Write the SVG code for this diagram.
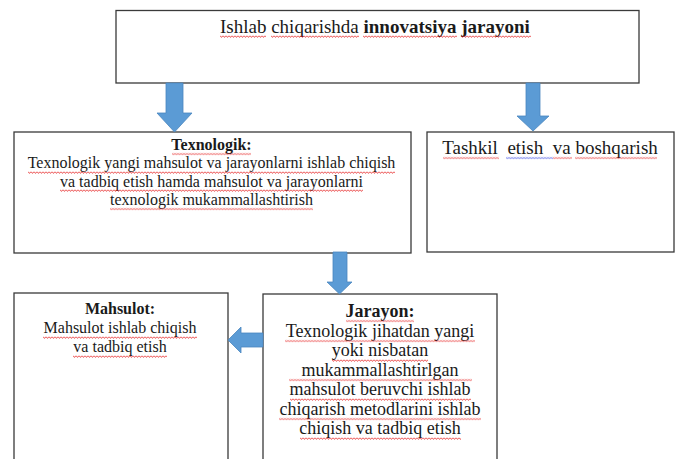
<svg xmlns="http://www.w3.org/2000/svg" width="679" height="459" viewBox="0 0 679 459">
<style>
.box{fill:#fff;stroke:#3a3a3a;stroke-width:1.3}
.arr{fill:#5b9bd5;stroke:#4a86bf;stroke-width:0.8}
.txt{font-family:"Liberation Serif","Times New Roman",serif;fill:#1a1a1a}
.c{text-anchor:middle}
.b{font-weight:bold}
.t16{font-size:16px}
.t18{font-size:18px}
.t19{font-size:19px}
.sq{fill:url(#wr)}
.sqb{fill:url(#wb)}
</style>
<defs>
<pattern id="wr" width="3" height="3" patternUnits="userSpaceOnUse"><path d="M0,0.6 L1.5,2.4 L3,0.6" fill="none" stroke="#e42020" stroke-width="0.8"/></pattern>
<pattern id="wb" width="3" height="3" patternUnits="userSpaceOnUse"><path d="M0,0.6 L1.5,2.4 L3,0.6" fill="none" stroke="#2a3ce0" stroke-width="0.8"/></pattern>
</defs>
<rect width="679" height="459" fill="#fff"/>
<g class="txt">
<g id="top">
<rect class="box" x="116" y="10.5" width="523" height="72.5"/>
<text class="t19" x="220" y="32.5"><tspan>Ishlab</tspan> <tspan>chiqarishda</tspan> <tspan class="b">innovatsiya</tspan><tspan class="b"> </tspan><tspan class="b">jarayoni</tspan></text>
<svg x="220" y="35" width="46" height="3"><rect class="sq" width="100%" height="3"/></svg>
<svg x="271" y="35" width="88" height="3"><rect class="sq" width="100%" height="3"/></svg>
<svg x="363" y="35" width="94" height="3"><rect class="sq" width="100%" height="3"/></svg>
<svg x="461" y="35" width="70" height="3"><rect class="sq" width="100%" height="3"/></svg>
</g>
<g id="texnologik">
<rect class="box" x="14" y="132" width="397" height="121"/>
<text class="t16 c" x="211.5" y="150"><tspan class="b">Texnologik:</tspan></text>
<text class="t16 c" x="211.5" y="168.3"><tspan>Texnologik</tspan> <tspan>yangi</tspan> <tspan>mahsulot</tspan> <tspan>va</tspan> <tspan>jarayonlarni</tspan> <tspan>ishlab</tspan> <tspan>chiqish</tspan></text>
<text class="t16 c" x="211.5" y="186.6"><tspan>va</tspan> <tspan>tadbiq</tspan> <tspan>etish</tspan> <tspan>hamda</tspan> <tspan>mahsulot</tspan> <tspan>va</tspan> <tspan>jarayonlarni</tspan></text>
<text class="t16 c" x="211.5" y="205"><tspan>texnologik</tspan> <tspan>mukammallashtirish</tspan></text>
<svg x="172" y="152.5" width="79" height="3"><rect class="sq" width="100%" height="3"/></svg>
<svg x="28" y="171" width="367" height="3"><rect class="sq" width="100%" height="3"/></svg>
<svg x="60" y="189" width="303" height="3"><rect class="sq" width="100%" height="3"/></svg>
<svg x="110" y="207.5" width="203" height="3"><rect class="sq" width="100%" height="3"/></svg>
</g>
<g id="tashkil">
<rect class="box" x="427" y="132" width="247" height="120"/>
<text class="t19 c" x="550" y="154" xml:space="preserve"><tspan>Tashkil</tspan>  <tspan>etish</tspan>  <tspan>va</tspan> <tspan>boshqarish</tspan></text>
<svg x="443" y="156.5" width="56" height="3"><rect class="sq" width="100%" height="3"/></svg>
<svg x="506" y="156.5" width="47" height="3"><rect class="sqb" width="100%" height="3"/></svg>
<svg x="553" y="156.5" width="19" height="3"><rect class="sq" width="100%" height="3"/></svg>
<svg x="575" y="156.5" width="82" height="3"><rect class="sq" width="100%" height="3"/></svg>
</g>
<g id="mahsulot">
<rect class="box" x="14" y="293" width="214" height="180"/>
<text class="t16 c" x="120" y="314.3"><tspan class="b">Mahsulot:</tspan></text>
<text class="t16 c" x="120" y="333.3"><tspan>Mahsulot</tspan> <tspan>ishlab</tspan> <tspan>chiqish</tspan></text>
<text class="t16 c" x="120" y="352.3"><tspan>va</tspan> <tspan>tadbiq</tspan> <tspan>etish</tspan></text>
<svg x="43" y="336" width="154" height="3"><rect class="sq" width="100%" height="3"/></svg>
<svg x="73" y="355" width="94" height="3"><rect class="sq" width="100%" height="3"/></svg>
</g>
<g id="jarayon">
<rect class="box" x="263" y="294" width="234" height="180"/>
<text class="t18 c" x="380" y="316.7"><tspan class="b">Jarayon:</tspan></text>
<text class="t18 c" x="380" y="336.5"><tspan>Texnologik</tspan> <tspan>jihatdan</tspan> <tspan>yangi</tspan></text>
<text class="t18 c" x="380" y="356"><tspan>yoki</tspan> <tspan>nisbatan</tspan></text>
<text class="t18 c" x="380" y="375.5"><tspan>mukammallashtirlgan</tspan></text>
<text class="t18 c" x="380" y="395"><tspan>mahsulot</tspan> <tspan>beruvchi</tspan> <tspan>ishlab</tspan></text>
<text class="t18 c" x="380" y="414.5"><tspan>chiqarish</tspan> <tspan>metodlarini</tspan> <tspan>ishlab</tspan></text>
<text class="t18 c" x="380" y="434"><tspan>chiqish</tspan> <tspan>va</tspan> <tspan>tadbiq</tspan> <tspan>etish</tspan></text>
<svg x="346" y="319.5" width="68" height="3"><rect class="sq" width="100%" height="3"/></svg>
<svg x="285" y="339.5" width="190" height="3"><rect class="sq" width="100%" height="3"/></svg>
<svg x="332" y="359" width="96" height="3"><rect class="sq" width="100%" height="3"/></svg>
<svg x="289" y="378.5" width="183" height="3"><rect class="sq" width="100%" height="3"/></svg>
<svg x="290" y="398" width="181" height="3"><rect class="sq" width="100%" height="3"/></svg>
<svg x="279" y="417.5" width="202" height="3"><rect class="sq" width="100%" height="3"/></svg>
<svg x="300" y="437" width="161" height="3"><rect class="sq" width="100%" height="3"/></svg>
</g>
</g>
<g id="connectors">
<path class="arr" d="M166,83 H183 V113 H192 L174.5,132 L157,113 H166 Z"/>
<path class="arr" d="M526,83 H540 V116 H549 L533,131 L517,116 H526 Z"/>
<path class="arr" d="M333,252 H347 V282 H352 L339.5,294 L327,282 H333 Z"/>
<path class="arr" d="M263,333 H241 V327 L228,340 L241,353 V347 H263 Z"/>
</g>
</svg>
